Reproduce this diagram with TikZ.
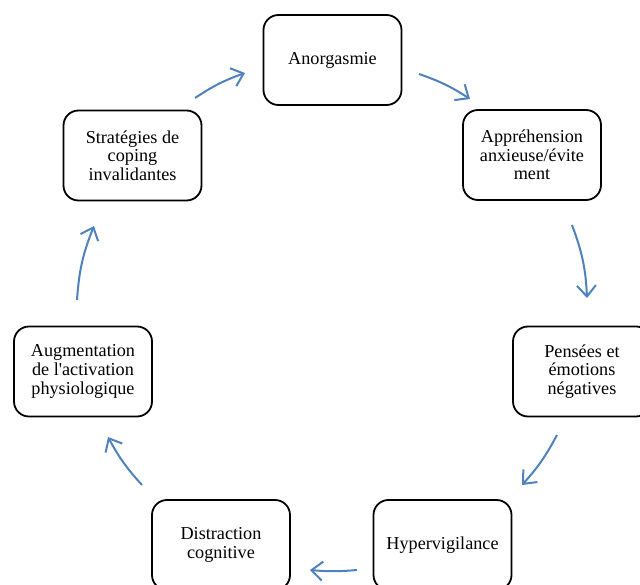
\documentclass[tikz,border=0pt]{standalone}
\usepackage{fontspec}
\setmainfont{Liberation Serif}
\usetikzlibrary{arrows.meta}
\definecolor{arrowblue}{RGB}{79,129,189}
\tikzset{
  box/.style={draw=black, line width=1.8pt, rounded corners=15pt, minimum width=138pt, minimum height=90pt, align=center, inner sep=2pt, font=\fontsize{18.2}{18.7}\selectfont},
  flow/.style={draw=arrowblue, line width=2pt, -{Straight Barb[length=11pt,width=19pt,line width=2pt]}}
}
\begin{document}
\begin{tikzpicture}[x=1pt,y=-1pt]
\useasboundingbox (0,0) rectangle (640,585);
\clip (0,0) rectangle (640,585);
\node[box] (ano) at (332.5,60) {Anorgasmie};
\node[box] (app) at (532,155) {Appréhension\\anxieuse/évite\\ment};
\node[box] (pen) at (582,371.5) {Pensées et\\émotions\\négatives};
\node[box] (hyp) at (442.5,545) {Hypervigilance};
\node[box] (dis) at (221,545) {Distraction\\cognitive};
\node[box] (aug) at (83,371.5) {Augmentation\\de l\textquotesingle activation\\physiologique};
\node[box] (str) at (132.5,155.5) {Stratégies de\\coping\\invalidantes};
\coordinate (a1) at (195,98);  \coordinate (b1) at (245,73);
\coordinate (a2) at (419,74);  \coordinate (b2) at (470,99);
\coordinate (a3) at (572,225); \coordinate (b3) at (587,298);
\coordinate (a4) at (557,435); \coordinate (b4) at (522,485);
\coordinate (a5) at (357,570); \coordinate (b5) at (310,570);
\coordinate (a6) at (142,485); \coordinate (b6) at (108,437);
\coordinate (a7) at (77,300);  \coordinate (b7) at (94,226);
\draw[flow] (a1) to[bend left=7] (b1);
\draw[flow] (a2) to[bend left=7] (b2);
\draw[flow] (a3) to[bend left=9] (b3);
\draw[flow] (a4) to[bend left=7] (b4);
\draw[flow] (a5) to[bend left=5] (b5);
\draw[flow] (a6) to[bend left=7] (b6);
\draw[flow] (a7) to[bend left=9] (b7);
\end{tikzpicture}
\end{document}
